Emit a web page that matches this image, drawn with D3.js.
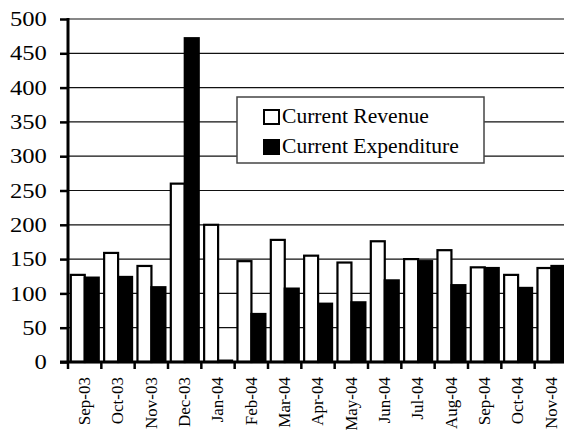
<!doctype html>
<html>
<head>
<style>
  body { margin: 0; background: #fff; }
  svg { display: block; font-family: "Liberation Serif", "Times New Roman", serif; }
</style>
<script src="https://d3js.org/d3.v7.min.js"></script>
</head>
<body>
<svg width="564" height="430"></svg>
<script>
// data
var months = ["Sep-03","Oct-03","Nov-03","Dec-03","Jan-04","Feb-04","Mar-04","Apr-04",
              "May-04","Jun-04","Jul-04","Aug-04","Sep-04","Oct-04","Nov-04"];
var revenue = [127,159,140,260,200,147,178,155,145,176,150,163,138,127,137];
var expenditure = [123,124,109,472,2,70,107,85,87,119,147,112,137,108,140];
var yTicks = [0,50,100,150,200,250,300,350,400,450,500];
var seriesNames = ["Current Revenue","Current Expenditure"];

var svg = d3.select("svg");
var plotLeft = 68, plotRight = 568, plotTop = 19, plotBottom = 362;

var x = d3.scaleBand().domain(months).range([plotLeft, plotRight]).padding(0);
var x1 = d3.scaleBand().domain([0, 1]).range([2.8, x.bandwidth() - 2.6]).padding(0);
var y = d3.scaleLinear().domain([0, 500]).range([plotBottom, plotTop]);

// gridlines
svg.append("g").selectAll("line")
  .data(yTicks.filter(function(d) { return d > 0; }))
  .enter().append("line")
  .attr("x1", plotLeft).attr("x2", plotRight)
  .attr("y1", function(d) { return y(d); })
  .attr("y2", function(d) { return y(d); })
  .attr("stroke", "#111").attr("stroke-width", 1.2);

var data = months.map(function(m, i) { return {month: m, vals: [revenue[i], expenditure[i]]}; });

var groups = svg.append("g").selectAll("g")
  .data(data)
  .enter().append("g")
  .attr("transform", function(d) { return "translate(" + x(d.month) + ",0)"; });

groups.selectAll("rect")
  .data(function(d) { return d.vals.map(function(v, k) { return {k: k, v: v}; }); })
  .enter().append("rect")
  .attr("x", function(d) { return x1(d.k); })
  .attr("width", x1.bandwidth())
  .attr("y", function(d) { return y(d.v); })
  .attr("height", function(d) { return plotBottom - y(d.v); })
  .attr("fill", function(d) { return d.k === 0 ? "#fff" : "#000"; })
  .attr("stroke", "#000")
  .attr("stroke-width", 2.2);

// y axis
var yAxis = svg.append("g")
  .attr("transform", "translate(" + plotLeft + ",0)")
  .call(d3.axisLeft(y).tickValues(yTicks).tickSize(8).tickSizeOuter(0));
yAxis.select(".domain").attr("stroke-width", 3).attr("d", "M0," + (plotTop - 1) + "V" + (plotBottom + 1));
yAxis.selectAll(".tick line").attr("stroke-width", 2.5);
yAxis.selectAll(".tick text")
  .attr("font-size", 20)
  .attr("font-family", "Liberation Serif, Times New Roman, serif")
  .attr("fill", "#000")
  .attr("x", -17.2)
  .attr("dy", "0.33em")
  .attr("transform", "scale(1.23,1)");

// x axis line and boundary ticks
svg.append("line")
  .attr("x1", plotLeft - 8).attr("x2", plotRight)
  .attr("y1", plotBottom).attr("y2", plotBottom)
  .attr("stroke", "#000").attr("stroke-width", 3);
svg.append("g").selectAll("line")
  .data(d3.range(months.length + 1))
  .enter().append("line")
  .attr("x1", function(i) { return plotLeft + i * x.bandwidth(); })
  .attr("x2", function(i) { return plotLeft + i * x.bandwidth(); })
  .attr("y1", plotBottom).attr("y2", plotBottom + 7)
  .attr("stroke", "#000").attr("stroke-width", 2.5);

// x labels
var xAxis = svg.append("g")
  .attr("transform", "translate(0," + plotBottom + ")")
  .call(d3.axisBottom(x).tickSize(0));
xAxis.select(".domain").remove();
xAxis.selectAll(".tick text")
  .attr("font-size", 17)
  .attr("font-family", "Liberation Serif, Times New Roman, serif")
  .attr("fill", "#000")
  .attr("text-anchor", "end")
  .attr("transform", "rotate(-90)")
  .attr("x", -15)
  .attr("y", 0)
  .attr("dy", "0.32em");

// legend
var lg = svg.append("g").attr("transform", "translate(237,97)");
lg.append("rect")
  .attr("x", 0).attr("y", 0).attr("width", 247).attr("height", 66)
  .attr("fill", "#fff").attr("stroke", "#444").attr("stroke-width", 1.5);
seriesNames.forEach(function(name, k) {
  var yy = 12 + k * 30;
  lg.append("rect")
    .attr("x", 27).attr("y", yy + 1).attr("width", 15).attr("height", 14)
    .attr("fill", k === 0 ? "#fff" : "#000")
    .attr("stroke", "#000").attr("stroke-width", 2);
  lg.append("text")
    .attr("transform", "translate(45," + (yy + 14) + ") scale(1.08,1)")
    .attr("font-size", 20)
    .attr("fill", "#000")
    .text(name);
});
</script>
</body>
</html>
